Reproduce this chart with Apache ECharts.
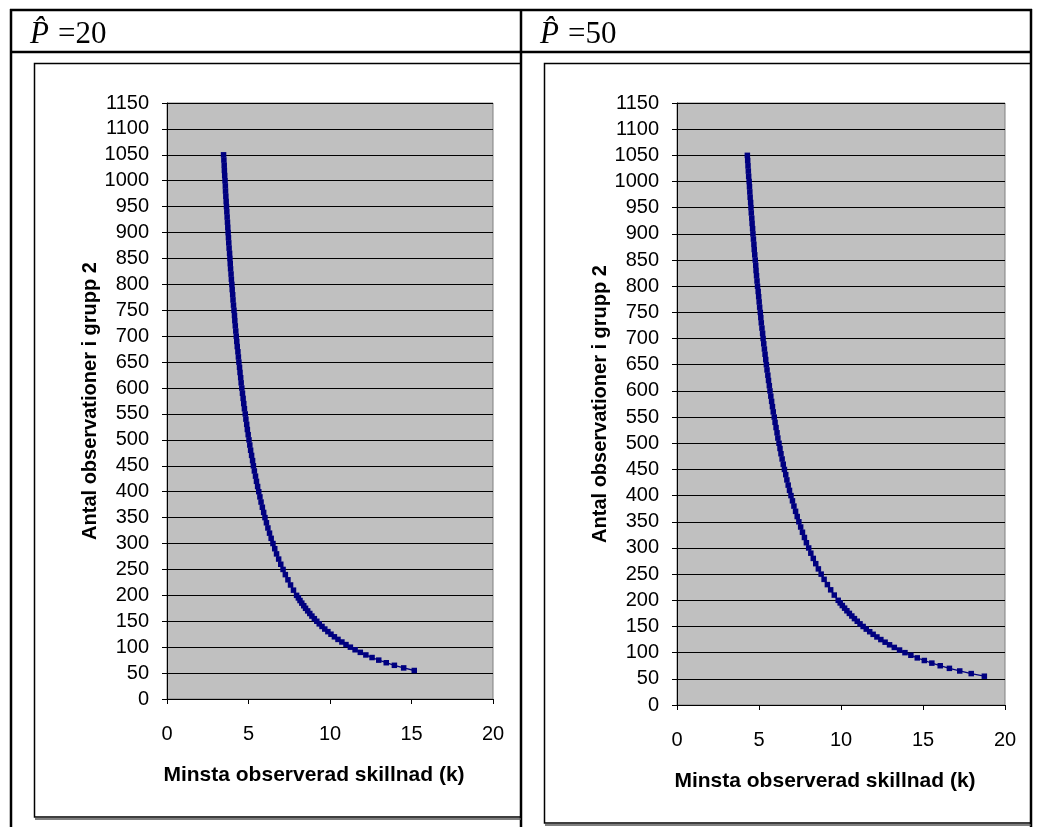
<!DOCTYPE html>
<html>
<head>
<meta charset="utf-8">
<script src="https://cdn.jsdelivr.net/npm/echarts@6/dist/echarts.min.js"></script>
<style>
html,body{margin:0;padding:0;background:#fff;}
#c{width:1038px;height:827px;}
</style>
</head>
<body>
<div id="c"></div>
<script>
// Antal observationer i grupp 2 (n)
const nValues = [55,60,65,70,75,80,85,90,95,100,105,110,115,120,125,130,135,140,145,150,155,160,165,170,175,180,185,190,195,200,
210,220,230,240,250,260,270,280,290,300,310,320,330,340,350,360,370,380,390,400,410,420,430,440,450,460,470,480,490,500,
510,520,530,540,550,560,570,580,590,600,610,620,630,640,650,660,670,680,690,700,710,720,730,740,750,760,770,780,790,800,
810,820,830,840,850,860,870,880,890,900,910,920,930,940,950,960,970,980,990,1000,1010,1020,1030,1040,1050];
// Minsta observerad skillnad (k), P^ = 20
const kLeft = [15.17,14.52,13.95,13.45,12.99,12.58,12.20,11.86,11.54,11.25,10.98,10.73,10.49,10.27,10.06,9.87,9.68,9.51,9.34,9.19,9.04,8.89,8.76,8.63,8.50,8.39,8.27,8.16,8.06,7.95,
7.76,7.58,7.42,7.26,7.12,6.98,6.85,6.72,6.61,6.50,6.39,6.29,6.19,6.10,6.01,5.93,5.85,5.77,5.70,5.63,5.56,5.49,5.43,5.36,5.30,5.25,5.19,5.13,5.08,5.03,
4.98,4.93,4.89,4.84,4.80,4.75,4.71,4.67,4.63,4.59,4.55,4.52,4.48,4.45,4.41,4.38,4.35,4.31,4.28,4.25,4.22,4.19,4.16,4.14,4.11,4.08,4.05,4.03,4.00,3.98,
3.95,3.93,3.90,3.88,3.86,3.84,3.81,3.79,3.77,3.75,3.73,3.71,3.69,3.67,3.65,3.63,3.61,3.59,3.58,3.56,3.54,3.52,3.51,3.49,3.47];
// Minsta observerad skillnad (k), P^ = 50
const kRight = [18.74,17.94,17.24,16.61,16.05,15.54,15.08,14.65,14.26,13.90,13.57,13.25,12.96,12.69,12.43,12.19,11.96,11.75,11.54,11.35,11.16,10.99,10.82,10.66,10.51,10.36,10.22,10.08,9.95,9.83,
9.59,9.37,9.17,8.97,8.79,8.62,8.46,8.31,8.16,8.03,7.89,7.77,7.65,7.54,7.43,7.33,7.23,7.13,7.04,6.95,6.86,6.78,6.70,6.63,6.55,6.48,6.41,6.34,6.28,6.22,
6.15,6.10,6.04,5.98,5.93,5.87,5.82,5.77,5.72,5.67,5.63,5.58,5.54,5.49,5.45,5.41,5.37,5.33,5.29,5.25,5.22,5.18,5.14,5.11,5.08,5.04,5.01,4.98,4.95,4.91,
4.88,4.85,4.82,4.80,4.77,4.74,4.71,4.69,4.66,4.63,4.61,4.58,4.56,4.53,4.51,4.49,4.46,4.44,4.42,4.40,4.37,4.35,4.33,4.31,4.29];

const headers = ['20', '50'];
const xTitle = 'Minsta observerad skillnad (k)';
const yTitle = 'Antal observationer i grupp 2';

const FONT = "'Liberation Sans', Arial, sans-serif";
const SERIF = "'Liberation Serif', 'Times New Roman', serif";

function pairs(ks){ return nValues.map((n,i)=>[ks[i], n]); }

function xAxisFor(g, gap){
  return {
    gridIndex:g, type:'value', min:0, max:20, interval:5,
    axisLine:{show:true, onZero:false, lineStyle:{color:'#000', width:1}},
    axisTick:{show:true, length:5, lineStyle:{color:'#000'}},
    splitLine:{show:false},
    axisLabel:{fontSize:20, fontFamily:FONT, color:'#000', margin:25, formatter:v=>String(v)},
    name:xTitle, nameLocation:'middle', nameGap:gap,
    nameTextStyle:{fontSize:21, fontWeight:'bold', fontFamily:FONT, color:'#000', padding:[0,32,0,0]}
  };
}
function yAxisFor(g){
  return {
    gridIndex:g, type:'value', min:0, max:1150, interval:50,
    axisLine:{show:true, onZero:false, lineStyle:{color:'#000', width:1}},
    axisTick:{show:true, length:5, lineStyle:{color:'#000'}},
    splitLine:{show:true, lineStyle:{color:'#000', width:1}},
    axisLabel:{fontSize:20, fontFamily:FONT, color:'#000', margin:18, formatter:v=>String(v)},
    name:yTitle, nameLocation:'middle', nameGap:58, nameRotate:90,
    nameTextStyle:{fontSize:20, fontWeight:'bold', fontFamily:FONT, color:'#000'}
  };
}
function seriesFor(g, ks){
  return {
    type:'line', xAxisIndex:g, yAxisIndex:g, data:pairs(ks),
    symbol:'rect', symbolSize:5.5, showAllSymbol:true,
    itemStyle:{color:'#000080'}, lineStyle:{color:'#000080', width:1.3}
  };
}

function line(x1,y1,x2,y2,w,c){
  return {type:'line', shape:{x1:x1,y1:y1,x2:x2,y2:y2}, style:{stroke:c||'#000', lineWidth:w}, z:100};
}
function poly(pts,w,c){
  return {type:'polyline', shape:{points:pts}, style:{stroke:c||'#000', lineWidth:w, fill:null}, z:100};
}
function header(x, val){
  return {type:'text', x:x, y:35, z:100, style:{
    text:'{p|P\u0302}{s| }{r|=' + val + '}', verticalAlign:'middle', align:'left',
    rich:{p:{fontFamily:SERIF, fontStyle:'italic', fontSize:31, fill:'#000'},
          s:{fontFamily:SERIF, fontSize:36, fill:'#000'},
          r:{fontFamily:SERIF, fontSize:31, fill:'#000'}}
  }};
}

const chart = echarts.init(document.getElementById('c'), null, {renderer:'canvas'});
chart.setOption({
  animation:false,
  backgroundColor:'#fff',
  grid:[
    {left:167, top:103, width:326, height:596, show:true, backgroundColor:'#c0c0c0', borderColor:'#808080', borderWidth:1},
    {left:677, top:103, width:328, height:602, show:true, backgroundColor:'#c0c0c0', borderColor:'#808080', borderWidth:1}
  ],
  xAxis:[xAxisFor(0, 66), xAxisFor(1, 66)],
  yAxis:[yAxisFor(0), yAxisFor(1)],
  series:[seriesFor(0, kLeft), seriesFor(1, kRight)],
  graphic:[
    line(10,10,1032,10,2.5), line(10,52,1032,52,2.5),
    line(11,9,11,827,2.5), line(521,9,521,827,2.5), line(1031,9,1031,827,2.5),
    poly([[521,63.5],[34.5,63.5],[34.5,817],[521,817]],1.5),
    line(35,819,521,819,1.5,'#555'),
    poly([[1031,63.5],[544.5,63.5],[544.5,823],[1031,823]],1.5),
    line(545,825,1031,825,1.5,'#555'),
    header(30, headers[0]), header(540, headers[1])
  ]
});
</script>
</body>
</html>
